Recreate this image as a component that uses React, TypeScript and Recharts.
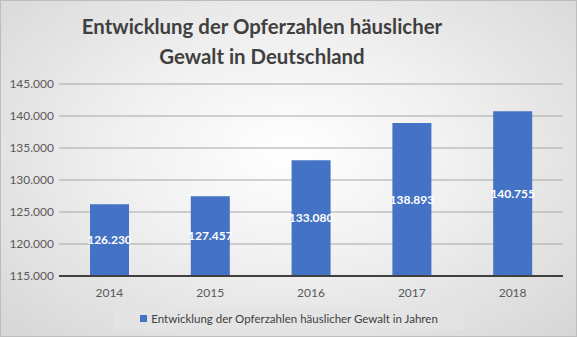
import React from "react";
import { BarChart, Bar, XAxis, YAxis, CartesianGrid, Legend, LabelList } from "recharts";

const years = ["2014", "2015", "2016", "2017", "2018"];
const victims = [126230, 127457, 133080, 138893, 140755];
const yTicks = [115000, 120000, 125000, 130000, 135000, 140000, 145000];

const seriesName = "Entwicklung der Opferzahlen häuslicher Gewalt in Jahren";
const data = years.map((year, i) => ({ year, value: victims[i] }));

const fmt = (v: number) => v.toLocaleString("de-DE");
const FONT = "Lato, 'Open Sans', sans-serif";

function LegendBox() {
  return (
    <div
      style={{
        width: 350,
        height: 22,
        marginLeft: 113,
        background: "#e4e4e4",
        display: "flex",
        alignItems: "center",
        justifyContent: "center",
        fontFamily: FONT,
        fontSize: 11.5,
        color: "#404040",
      }}
    >
      <span style={{ width: 7, height: 7, background: "#4472C4", marginRight: 4, display: "inline-block" }} />
      {seriesName}
    </div>
  );
}

export default function App() {
  return (
    <div
      style={{
        position: "absolute",
        left: 0,
        top: 0,
        width: 577,
        height: 337,
        boxSizing: "border-box",
        border: "1px solid #bdbdbd",
        background: "radial-gradient(ellipse at 50% 45%, #ffffff 0%, #f1f1f1 40%, #d6d6d6 100%)",
        overflow: "hidden",
      }}
    >
      <div
        style={{
          position: "absolute",
          top: 10,
          left: 0,
          width: 522,
          textAlign: "center",
          fontFamily: FONT,
          fontWeight: 700,
          fontSize: 20.4,
          lineHeight: "30px",
          color: "#404040",
        }}
      >
        Entwicklung der Opferzahlen häuslicher
        <br />
        Gewalt in Deutschland
      </div>
      <BarChart
        width={577}
        height={337}
        data={data}
        margin={{ top: 83, right: 15, bottom: 9, left: -1 }}
        style={{ position: "absolute", left: 0, top: 0 }}
      >
        <CartesianGrid vertical={false} stroke="#a6a6a6" />
        <XAxis
          dataKey="year"
          height={31}
          axisLine={{ stroke: "#404040", strokeWidth: 2 }}
          tickLine={false}
          tick={{ fontSize: 12, fill: "#595959", fontFamily: FONT }}
          tickMargin={6}
        />
        <YAxis
          width={59}
          domain={[115000, 145000]}
          ticks={yTicks}
          tickFormatter={fmt}
          axisLine={false}
          tickLine={false}
          tickSize={0}
          tickMargin={5}
          tick={{ fontSize: 12, fill: "#595959", fontFamily: FONT }}
        />
        <Legend
          verticalAlign="bottom"
          wrapperStyle={{ left: 0, width: 577 }}
          content={() => <LegendBox />}
        />
        <Bar dataKey="value" name={seriesName} fill="#4472C4" barSize={39} isAnimationActive={false}>
          <LabelList
            dataKey="value"
            position="center"
            formatter={(v: any) => fmt(Number(v))}
            fill="#ffffff"
            fontSize={12}
            fontWeight={700}
            fontFamily={FONT}
          />
        </Bar>
      </BarChart>
    </div>
  );
}
